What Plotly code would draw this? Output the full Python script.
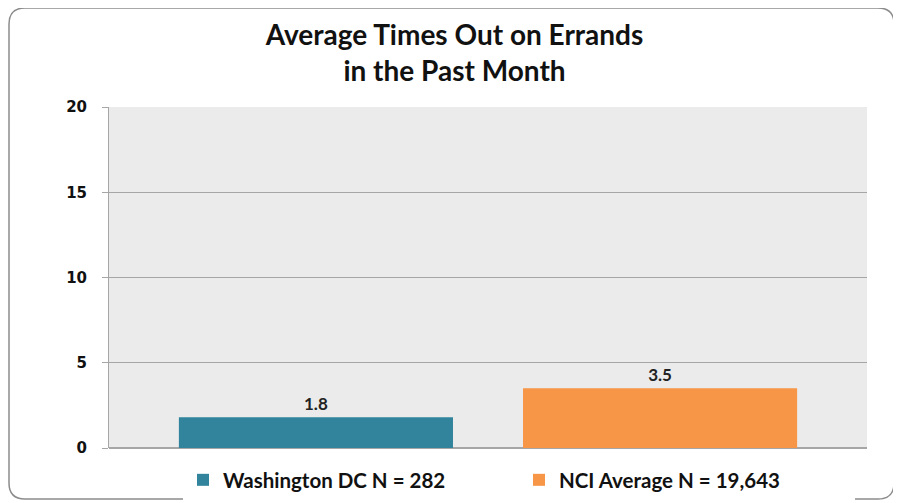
import plotly.graph_objects as go

categories = ["Average Times Out on Errands"]
series_names = ["Washington DC N = 282", "NCI Average N = 19,643"]
series_values = [[1.8], [3.5]]
series_labels = [["1.8"], ["3.5"]]
colors = ["#31849B", "#F79646"]
tick_vals = [0, 5, 10, 15, 20]
tick_text = ["0", "5", "10", "15", "20"]

OFF = 8  # page body margin offset
W, H = 901 - OFF, 503 - OFF

fig = go.Figure()
for name, vals, labs, col in zip(series_names, series_values, series_labels, colors):
    fig.add_trace(go.Bar(
        x=categories, y=vals, name=name, marker_color=col,
        marker_line_width=0,
        text=labs, textposition="outside", cliponaxis=False,
        textfont=dict(family="Lato", size=17, color="#222222", weight="bold"),
    ))

# plot-area in reference pixel coords
L, R, T, B = 109, 867, 107, 448
def px(x):
    return (x - L) / (R - L)
def py(y):
    return (B - y) / (B - T)
x0, x1, y0, y1, r = 9, 894, 8, 499, 16
path = (f"M {px(x0+r)},{py(y0)} L {px(x1-r)},{py(y0)} "
        f"Q {px(x1)},{py(y0)} {px(x1)},{py(y0+r)} "
        f"L {px(x1)},{py(y1-r)} Q {px(x1)},{py(y1)} {px(x1-r)},{py(y1)} "
        f"L {px(x0+r)},{py(y1)} Q {px(x0)},{py(y1)} {px(x0)},{py(y1-r)} "
        f"L {px(x0)},{py(y0+r)} Q {px(x0)},{py(y0)} {px(x0+r)},{py(y0)} Z")
fig.add_shape(type="path", path=path, xref="paper", yref="paper",
              line=dict(color="#8C8C8C", width=1.5), layer="below")

fig.update_layout(
    width=W, height=H,
    margin=dict(l=L - OFF, r=901 - R, t=T - OFF, b=503 - B, autoexpand=False),
    paper_bgcolor="white", plot_bgcolor="#EBEBEB",
    barmode="group", bargap=0.092, bargroupgap=0.2035,
    title=dict(text="<b>Average Times Out on Errands<br>in the Past Month</b>",
               x=0.5, xanchor="center", y=1 - (45 - OFF) / H, yanchor="middle",
               font=dict(family="Lato", size=28, color="#111111")),
    showlegend=True,
    legend=dict(orientation="h", x=(203 - 20 - L) / (R - L), xanchor="left",
                y=1 - (480 - OFF) / H, yref="container", yanchor="middle",
                font=dict(family="Lato", size=20.5, color="#111111", weight="bold"),
                entrywidth=291, traceorder="normal"),
    font=dict(family="DejaVu Sans"),
)
fig.update_xaxes(showticklabels=False, showgrid=False, showline=False, zeroline=False)
fig.update_yaxes(range=[0, 20], tickvals=tick_vals, ticktext=tick_text,
                 showgrid=True, gridcolor="#A6A6A6", gridwidth=1,
                 showline=True, linecolor="#A6A6A6", linewidth=1,
                 ticks="outside", ticklen=6, tickcolor="#A6A6A6",
                 ticklabelstandoff=12,
                 zeroline=True, zerolinecolor="#A6A6A6", zerolinewidth=2,
                 tickfont=dict(family="DejaVu Sans", size=15, color="#111111", weight="bold"))
fig.write_html("out.html")
